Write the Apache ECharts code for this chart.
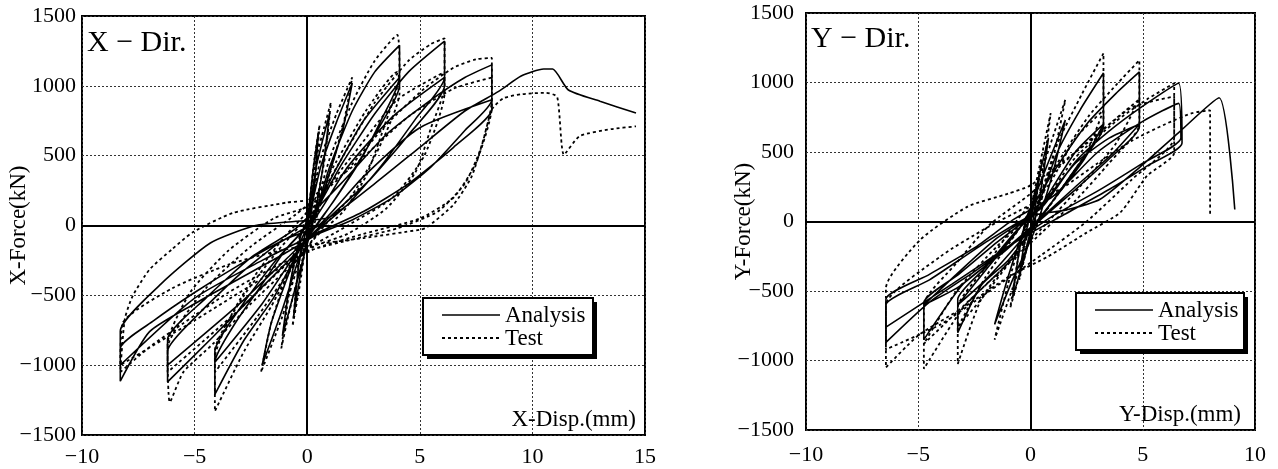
<!DOCTYPE html>
<html>
<head>
<meta charset="utf-8">
<script src="https://cdn.jsdelivr.net/npm/echarts@6/dist/echarts.min.js"></script>
<style>html,body{margin:0;padding:0;background:#fff}#c{width:1278px;height:469px}</style>
</head>
<body>
<div id="c"></div>
<script>
// X-direction: Analysis (solid) path [disp mm, force kN]
const xAnalysis = [
[0,0],[0.25,380],[0.5,670],[0.3,250],[0.05,-50],[-0.3,-350],[-0.6,-650],[-0.35,-250],[0,0],
[0.4,420],[0.7,620],[1.0,805],[0.7,420],[0.3,50],[-0.2,-250],[-0.7,-550],[-1.1,-790],[-0.8,-450],[-0.3,-80],[0.1,80],
[0.6,420],[1.3,740],[2.0,1020],[1.6,700],[1.0,380],[0.4,80],[-0.3,-200],[-1.1,-600],[-2.0,-1000],[-1.6,-700],[-0.9,-380],[-0.2,-80],[0.3,60],
[1.0,420],[2.0,820],[3.0,1100],[4.1,1290],[4.1,1060],[3.3,760],[2.3,450],[1.2,180],[0.3,-20],[-0.5,-220],[-1.5,-520],[-2.8,-820],[-4.1,-1210],[-4.1,-980],[-3.2,-700],[-2.0,-420],[-0.9,-160],[0,0],
[1.2,380],[2.5,750],[4.1,1060],[4.1,1000],[3.0,650],[1.8,330],[0.6,40],[-0.5,-200],[-2.0,-560],[-4.1,-980],[-4.1,-900],[-2.8,-550],[-1.4,-250],[0,0],
[1.5,430],[3.0,800],[4.5,1100],[6.1,1320],[6.1,1060],[4.8,760],[3.3,430],[1.8,150],[0.5,-30],[-1.0,-280],[-2.5,-520],[-4.2,-800],[-6.2,-1120],[-6.2,-900],[-4.8,-630],[-3.0,-350],[-1.3,-130],[0.2,20],
[1.8,420],[3.8,780],[6.1,1060],[6.1,1000],[4.5,650],[2.8,330],[1.0,60],[-0.8,-220],[-3.0,-560],[-6.2,-1000],[-6.2,-815],[-4.5,-520],[-2.5,-230],[-0.5,-20],
[1.5,300],[3.5,650],[5.5,900],[7.0,1060],[8.2,1150],[8.2,900],[7.0,680],[5.5,420],[3.8,200],[2.0,40],[0.5,-60],[-1.0,-200],[-3.0,-380],[-5.0,-560],[-7.0,-760],[-8.3,-1115],[-8.3,-880],[-6.8,-680],[-5.0,-480],[-3.0,-280],[-1.0,-100],[0.5,0],
[2.5,350],[5.0,700],[8.2,900],[8.2,830],[6.5,560],[4.5,300],[2.5,100],[0.5,-50],[-2.0,-250],[-5.0,-520],[-8.3,-1000],[-8.3,-757],[-6.5,-420],[-4.3,-125],[-2.3,0],[-0.5,30],
[1.0,60],[3.0,300],[5.0,560],[7.0,820],[8.5,960],[9.5,1070],[10.5,1120],[10.9,1120],[11.6,970],[13.0,890],[14.6,805]
];
// X-direction: Test (dotted) path
const xTest = [
[0,0],[0.3,450],[0.55,720],[0.3,250],[0.0,-50],[-0.3,-400],[-0.65,-720],[-0.35,-250],[0,50],
[0.4,480],[0.75,700],[1.05,880],[0.8,500],[0.3,80],[-0.3,-300],[-0.8,-620],[-1.15,-880],[-0.8,-480],[-0.3,-50],[0.1,100],
[0.6,480],[1.3,800],[2.0,1060],[1.6,720],[1.0,380],[0.4,50],[-0.3,-230],[-1.1,-650],[-2.05,-1050],[-1.6,-700],[-0.9,-350],[-0.2,-30],[0.3,100],
[1.0,480],[2.0,880],[3.0,1180],[4.0,1365],[4.1,1080],[3.4,700],[2.6,350],[1.6,100],[0.4,-80],[-0.6,-280],[-1.6,-580],[-2.8,-900],[-4.1,-1330],[-4.1,-950],[-3.3,-620],[-2.2,-330],[-1.0,-80],[0,100],
[1.3,460],[2.6,820],[4.0,1100],[4.1,950],[3.2,560],[2.0,220],[0.6,-30],[-0.6,-280],[-2.2,-650],[-4.1,-1050],[-4.1,-900],[-2.8,-500],[-1.3,-180],[0,60],
[1.5,470],[3.0,880],[4.5,1180],[5.5,1300],[6.1,1340],[6.1,1000],[5.5,700],[4.8,380],[3.5,120],[1.8,-60],[0.3,-150],[-1.0,-330],[-2.5,-560],[-4.2,-850],[-5.5,-1050],[-6.1,-1265],[-6.2,-850],[-5.2,-480],[-3.5,-180],[-1.5,50],[0.2,150],
[2.0,500],[4.0,900],[6.1,1100],[6.1,950],[5.2,500],[3.8,200],[1.8,0],[-0.5,-220],[-3.0,-600],[-6.2,-1050],[-6.2,-880],[-4.5,-450],[-2.5,-150],[-0.5,80],
[1.5,350],[3.5,720],[5.2,980],[6.5,1130],[7.5,1190],[8.2,1200],[8.2,900],[7.7,550],[7.0,300],[5.8,100],[4.0,-20],[2.0,-100],[0.3,-170],[-1.5,-300],[-3.5,-480],[-5.5,-700],[-7.0,-870],[-8.3,-1050],[-8.1,-670],[-7.75,-505],[-7.0,-315],[-6.0,-170],[-5.1,-50],[-3.3,90],[-0.9,165],[0,185],
[2.0,420],[4.5,780],[6.5,980],[8.2,1060],[8.2,850],[7.5,450],[6.5,200],[5.0,50],[2.5,-60],[0.3,-170],[-2.0,-380],[-5.0,-680],[-8.3,-1000],[-8.2,-700],[-6.0,-450],[-3.5,-280],[-1.5,-190],[0.1,-140],
[2.5,-90],[5.0,-30],[5.3,-15],[6.5,150],[7.3,350],[7.8,600],[8.2,830],[8.7,910],[9.5,940],[10.6,950],[11.1,920],[11.4,507],[12.1,640],[13.5,690],[14.6,710]
];
// Y-direction: Analysis (solid)
const yAnalysis = [
[0,0],[0.4,350],[0.1,0],[-0.5,-380],[-0.1,0],
[0.8,600],[0.3,80],[-0.8,-550],[-0.3,-50],
[1.55,730],[1.0,350],[0.2,-60],[-0.8,-420],[-1.6,-740],[-1.0,-400],[-0.3,-60],[0.3,100],
[1.2,500],[2.2,800],[3.25,1068],[3.25,680],[2.0,380],[0.6,60],[-1.0,-280],[-2.2,-460],[-3.24,-800],[-3.24,-560],[-2.0,-330],[-0.7,-80],[0.4,100],
[2.0,500],[3.25,700],[2.4,450],[1.0,150],[-0.5,-150],[-2.0,-420],[-3.24,-600],[-2.0,-350],[-0.5,-50],
[1.0,350],[2.5,700],[3.8,920],[4.85,1076],[4.85,680],[3.5,450],[2.0,230],[0.5,20],[-1.2,-220],[-3.0,-450],[-4.75,-850],[-4.75,-585],[-3.2,-380],[-1.5,-150],[0.3,80],
[2.0,420],[3.5,600],[4.85,700],[3.6,480],[2.0,250],[0.3,0],[-1.5,-250],[-3.2,-470],[-4.75,-600],[-3.3,-380],[-1.5,-120],[0.5,100],
[2.0,430],[3.5,650],[5.0,830],[6.6,995],[6.75,565],[5.2,400],[3.5,230],[1.5,50],[-0.5,-130],[-2.5,-360],[-4.5,-580],[-6.44,-870],[-6.44,-560],[-4.5,-380],[-2.5,-190],[-0.75,15],[1.0,180],
[3.0,500],[5.0,720],[6.6,850],[6.7,600],[5.0,420],[3.0,220],[1.0,40],[-1.0,-180],[-3.5,-450],[-6.44,-760],[-6.44,-600],[-4.5,-420],[-2.0,-150],[0,40],
[1.5,80],[3.1,160],[4.9,395],[6.6,640],[8.4,890],[9.1,86]
];
// Y-direction: Test (dotted)
const yTest = [
[0,0],[0.5,450],[0.1,0],[-0.5,-420],[-0.1,0],
[0.9,780],[0.3,100],[-0.9,-620],[-0.3,-50],
[1.55,875],[1.0,450],[0.2,0],[-0.8,-480],[-1.6,-850],[-1.0,-450],[-0.3,-80],[0.3,120],
[1.2,560],[2.3,920],[3.25,1210],[3.25,700],[2.2,420],[0.8,100],[-0.8,-250],[-2.2,-560],[-3.24,-1025],[-3.24,-620],[-2.0,-330],[-0.5,30],[0.8,260],
[2.0,600],[3.25,800],[2.5,500],[1.0,150],[-0.5,-200],[-2.0,-520],[-3.24,-760],[-2.0,-400],[-0.5,-50],
[1.2,420],[2.6,760],[3.8,980],[4.85,1160],[4.85,700],[3.5,420],[2.0,150],[0.5,-80],[-1.3,-350],[-3.0,-620],[-4.75,-1060],[-4.75,-600],[-3.3,-300],[-1.8,-20],[0,200],
[2.0,500],[3.5,700],[4.85,880],[3.8,560],[2.2,250],[0.5,-50],[-1.5,-380],[-3.2,-640],[-4.75,-880],[-3.3,-500],[-1.5,-180],[0.5,120],
[2.0,460],[3.8,720],[5.2,880],[6.4,995],[6.4,495],[5.2,330],[4.0,65],[2.5,-80],[0.8,-250],[-1.0,-400],[-3.0,-620],[-5.0,-820],[-6.44,-1050],[-6.44,-480],[-4.9,-130],[-2.8,107],[-1.0,200],[0,260],
[2.5,560],[4.5,820],[6.4,900],[6.4,600],[4.5,300],[2.5,0],[0.5,-240],[-2.0,-520],[-4.0,-740],[-6.44,-920],[-6.44,-600],[-4.0,-250],[-2.0,-50],[0,120],
[1.5,250],[3.0,420],[4.5,580],[6.0,700],[7.2,780],[8.0,800],[8.0,36]
];
const xTicksX = {min:-10, max:15, interval:5};
const xTicksY = {min:-10, max:10, interval:5};
const yTicks = {min:-1500, max:1500, interval:500};
const seriesNames = ['Analysis','Test'];

const FONT = '"Liberation Serif", "DejaVu Serif", serif';
const chart = echarts.init(document.getElementById('c'), null, {renderer:'canvas'});
const fmt = v => String(v).replace('-', '\u2212');

function xAxisCfg(idx, t, margin){
  return {gridIndex:idx, type:'value', min:t.min, max:t.max, interval:t.interval,
    axisLine:{show:false}, axisTick:{show:false},
    axisLabel:{color:'#000', fontFamily:FONT, fontSize:22, margin:margin, formatter:fmt},
    splitLine:{show:true, lineStyle:{color:'#333', type:[2,2], width:1}}};
}
function yAxisCfg(idx, name, margin, gap){
  return {gridIndex:idx, type:'value', min:yTicks.min, max:yTicks.max, interval:yTicks.interval,
    name:name, nameLocation:'middle', nameGap:gap, nameRotate:90, nameMoveOverlap:false,
    nameTextStyle:{color:'#000', fontFamily:FONT, fontSize:23},
    axisLine:{show:false}, axisTick:{show:false},
    axisLabel:{color:'#000', fontFamily:FONT, fontSize:22, margin:margin, formatter:fmt},
    splitLine:{show:true, lineStyle:{color:'#333', type:[2,2], width:1}}};
}
const zeroLines = {silent:true, symbol:'none', label:{show:false},
  lineStyle:{color:'#000', type:'solid', width:2}, data:[{xAxis:0},{yAxis:0}]};
function solid(name, idx, data){
  return {name:name, type:'line', xAxisIndex:idx, yAxisIndex:idx, data:data, showSymbol:false, symbol:'none',
    smooth:0.2, lineStyle:{color:'#000', width:1.6, type:'solid'}, animation:false, markLine:zeroLines, z:3};
}
function dotted(name, idx, data){
  return {name:name, type:'line', xAxisIndex:idx, yAxisIndex:idx, data:data, showSymbol:false, symbol:'none',
    smooth:0.2, lineStyle:{color:'#000', width:1.8, type:[3,3]}, animation:false, z:2};
}
function legendBox(x, y, w, h){
  return [
    {type:'rect', shape:{x:x+4, y:y+4, width:w, height:h}, style:{fill:'#000'}, z:10},
    {type:'rect', shape:{x:x, y:y, width:w, height:h}, style:{fill:'#fff', stroke:'#000', lineWidth:2}, z:11},
    {type:'line', shape:{x1:x+19, y1:y+17, x2:x+77, y2:y+17}, style:{stroke:'#000', lineWidth:1.6}, z:12},
    {type:'line', shape:{x1:x+19, y1:y+40, x2:x+77, y2:y+40}, style:{stroke:'#000', lineWidth:1.8, lineDash:[3,3]}, z:12},
    {type:'text', x:x+82, y:y+18, style:{text:seriesNames[0], font:'23px '+FONT, fill:'#000', textVerticalAlign:'middle'}, z:12},
    {type:'text', x:x+82, y:y+41, style:{text:seriesNames[1], font:'23px '+FONT, fill:'#000', textVerticalAlign:'middle'}, z:12}
  ];
}
const option = {
  animation:false,
  backgroundColor:'#fff',
  grid:[
    {left:82, top:16, width:563, height:419, show:true, borderColor:'#000', borderWidth:2, backgroundColor:'transparent', containLabel:false, outerBoundsMode:'none'},
    {left:806, top:13, width:449, height:417, show:true, borderColor:'#000', borderWidth:2, backgroundColor:'transparent', containLabel:false, outerBoundsMode:'none'}
  ],
  xAxis:[xAxisCfg(0, xTicksX, 11), xAxisCfg(1, xTicksY, 14)],
  yAxis:[yAxisCfg(0, 'X-Force(kN)', 6, 52), yAxisCfg(1, 'Y-Force(kN)', 12, 51)],
  series:[
    solid(seriesNames[0], 0, xAnalysis), dotted(seriesNames[1], 0, xTest),
    solid(seriesNames[0], 1, yAnalysis), dotted(seriesNames[1], 1, yTest)
  ],
  graphic:[
    {type:'text', x:87, y:43, style:{text:'X \u2212 Dir.', font:'30px '+FONT, fill:'#000', textVerticalAlign:'middle'}, z:12},
    {type:'text', x:811, y:39, style:{text:'Y \u2212 Dir.', font:'30px '+FONT, fill:'#000', textVerticalAlign:'middle'}, z:12},
    {type:'text', x:636, y:420, style:{text:'X-Disp.(mm)', font:'23px '+FONT, fill:'#000', textVerticalAlign:'middle', textAlign:'right'}, z:12},
    {type:'text', x:1241, y:415, style:{text:'Y-Disp.(mm)', font:'23px '+FONT, fill:'#000', textVerticalAlign:'middle', textAlign:'right'}, z:12}
  ].concat(legendBox(423, 298, 170, 57)).concat(legendBox(1076, 293, 168, 57))
};
chart.setOption(option);
</script>
</body>
</html>
